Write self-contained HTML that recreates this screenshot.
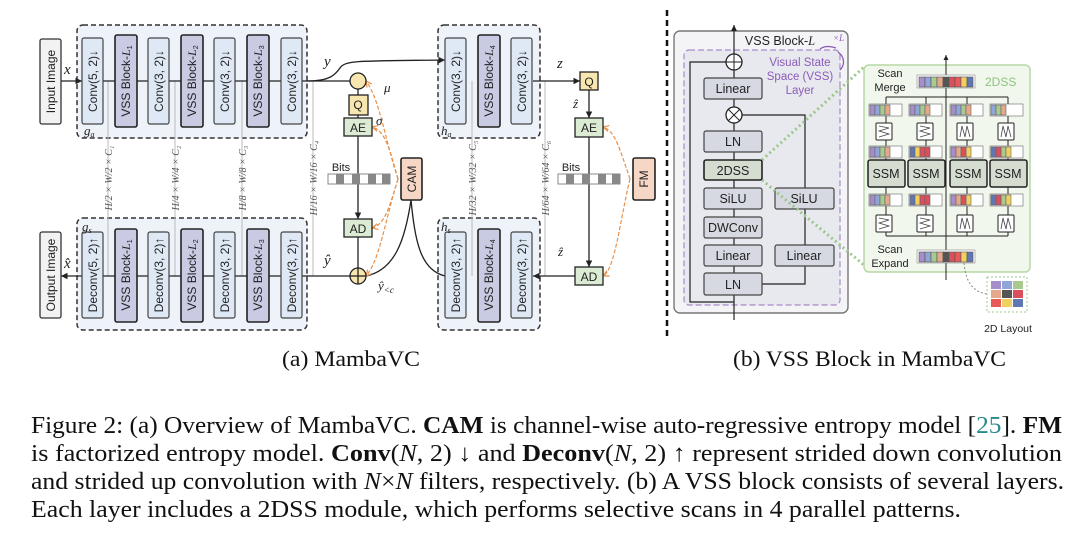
<!DOCTYPE html>
<html><head><meta charset="utf-8"><style>
body{margin:0;background:#fff;width:1080px;height:536px;overflow:hidden}
svg{display:block}
.s{font-family:"Liberation Sans",sans-serif}
.r{font-family:"Liberation Serif",serif}
</style></head><body>
<svg width="1080" height="536" viewBox="0 0 1080 536" xmlns="http://www.w3.org/2000/svg">
<defs>
<marker id="a" markerWidth="6" markerHeight="6" refX="5" refY="3" orient="auto"><path d="M0,0.5 L5,3 L0,5.5z" fill="#222"/></marker>
<marker id="o" markerWidth="6" markerHeight="6" refX="5" refY="3" orient="auto"><path d="M0,0.5 L5,3 L0,5.5" fill="none" stroke="#e8904a" stroke-width="1"/></marker>
</defs>
<rect x="77" y="25" width="230" height="113" rx="6" fill="#eef2f9" stroke="#333" stroke-width="1.5" stroke-dasharray="5,3"/>
<rect x="77" y="218" width="230" height="112" rx="6" fill="#eef2f9" stroke="#333" stroke-width="1.5" stroke-dasharray="5,3"/>
<rect x="438" y="25" width="102" height="113" rx="6" fill="#eef2f9" stroke="#333" stroke-width="1.5" stroke-dasharray="5,3"/>
<rect x="438" y="218" width="102" height="112" rx="6" fill="#eef2f9" stroke="#333" stroke-width="1.5" stroke-dasharray="5,3"/>
<g stroke="#bbb" stroke-width="1">
<line x1="108" y1="81" x2="108" y2="276"/><line x1="175" y1="81" x2="175" y2="276"/><line x1="242" y1="81" x2="242" y2="276"/><line x1="313" y1="81" x2="313" y2="276"/>
<line x1="472" y1="81" x2="472" y2="276"/><line x1="545" y1="81" x2="545" y2="276"/>
</g>
<g stroke="#222" stroke-width="1.3" fill="none">
<line x1="61" y1="81" x2="82" y2="81" marker-end="url(#a)"/>
<line x1="103" y1="81" x2="350" y2="81"/>
<path d="M307,81 C330,81 335,75 340,68 C345,60 360,61 445,60" marker-end="url(#a)"/>
<line x1="358" y1="89" x2="358" y2="95"/>
<line x1="358" y1="115" x2="358" y2="118"/>
<line x1="358" y1="136" x2="358" y2="219" marker-end="url(#a)"/>
<line x1="358" y1="237" x2="358" y2="268"/>
<line x1="350" y1="276" x2="61" y2="276" marker-end="url(#a)"/>
<path d="M366,276 C395,270 405,240 411,200"/>
<path d="M411,200 C415,240 420,270 445,276"/>
<line x1="533" y1="81" x2="580" y2="81" marker-end="url(#a)"/>
<line x1="589" y1="90" x2="589" y2="118" marker-end="url(#a)"/>
<line x1="589" y1="137" x2="589" y2="267" marker-end="url(#a)"/>
<line x1="575" y1="276" x2="533" y2="276" marker-end="url(#a)"/>
</g>
<g stroke="#e8904a" stroke-width="1.2" fill="none" stroke-dasharray="4,2">
<path d="M398,179 C385,140 380,100 366,81" marker-end="url(#o)"/>
<path d="M398,179 C390,150 385,130 372,127" marker-end="url(#o)"/>
<path d="M398,179 C390,205 385,225 372,228" marker-end="url(#o)"/>
<path d="M398,179 C385,220 380,260 366,276" marker-end="url(#o)"/>
<path d="M630,179 C620,150 615,130 603,127" marker-end="url(#o)"/>
<path d="M630,179 C620,220 615,270 603,276" marker-end="url(#o)"/>
</g>
<g class="s" font-size="12" fill="#222">
<rect x="40" y="39" width="21" height="85" rx="2" fill="#f2f2f2" stroke="#333" stroke-width="1.3"/>
<text transform="translate(55,81.5) rotate(-90)" text-anchor="middle">Input Image</text>
<rect x="40" y="232" width="21" height="86" rx="2" fill="#f2f2f2" stroke="#333" stroke-width="1.3"/>
<text transform="translate(55,275) rotate(-90)" text-anchor="middle">Output Image</text>
</g>
<g class="s" font-size="12" fill="#222">
<g fill="#dfe8f5" stroke="#444" stroke-width="1.2">
<rect x="82" y="38" width="21" height="86" rx="2"/><rect x="148" y="38" width="21" height="86" rx="2"/><rect x="214" y="38" width="21" height="86" rx="2"/><rect x="281" y="38" width="21" height="86" rx="2"/>
<rect x="82" y="232" width="21" height="86" rx="2"/><rect x="148" y="232" width="21" height="86" rx="2"/><rect x="214" y="232" width="21" height="86" rx="2"/><rect x="281" y="232" width="21" height="86" rx="2"/>
<rect x="445" y="38" width="21" height="86" rx="2"/><rect x="511" y="38" width="21" height="86" rx="2"/>
<rect x="445" y="232" width="21" height="86" rx="2"/><rect x="511" y="232" width="21" height="86" rx="2"/>
</g>
<g fill="#c9cbe3" stroke="#222" stroke-width="1.6">
<rect x="115" y="35" width="22" height="92" rx="2"/><rect x="181" y="35" width="22" height="92" rx="2"/><rect x="247" y="35" width="22" height="92" rx="2"/>
<rect x="115" y="229" width="22" height="93" rx="2"/><rect x="181" y="229" width="22" height="93" rx="2"/><rect x="247" y="229" width="22" height="93" rx="2"/>
<rect x="478" y="35" width="22" height="92" rx="2"/><rect x="478" y="229" width="22" height="93" rx="2"/>
</g>
<text transform="translate(97,81) rotate(-90)" text-anchor="middle">Conv(5, 2)↓</text>
<text transform="translate(130,81) rotate(-90)" text-anchor="middle">VSS Block-<tspan class="r" font-style="italic">L</tspan><tspan font-size="7" dy="2">1</tspan></text>
<text transform="translate(163,81) rotate(-90)" text-anchor="middle">Conv(3, 2)↓</text>
<text transform="translate(196,81) rotate(-90)" text-anchor="middle">VSS Block-<tspan class="r" font-style="italic">L</tspan><tspan font-size="7" dy="2">2</tspan></text>
<text transform="translate(229,81) rotate(-90)" text-anchor="middle">Conv(3, 2)↓</text>
<text transform="translate(262,81) rotate(-90)" text-anchor="middle">VSS Block-<tspan class="r" font-style="italic">L</tspan><tspan font-size="7" dy="2">3</tspan></text>
<text transform="translate(296,81) rotate(-90)" text-anchor="middle">Conv(3, 2)↓</text>
<text transform="translate(97,275) rotate(-90)" text-anchor="middle">Deconv(5, 2)↑</text>
<text transform="translate(130,275) rotate(-90)" text-anchor="middle">VSS Block-<tspan class="r" font-style="italic">L</tspan><tspan font-size="7" dy="2">1</tspan></text>
<text transform="translate(163,275) rotate(-90)" text-anchor="middle">Deconv(3, 2)↑</text>
<text transform="translate(196,275) rotate(-90)" text-anchor="middle">VSS Block-<tspan class="r" font-style="italic">L</tspan><tspan font-size="7" dy="2">2</tspan></text>
<text transform="translate(229,275) rotate(-90)" text-anchor="middle">Deconv(3, 2)↑</text>
<text transform="translate(262,275) rotate(-90)" text-anchor="middle">VSS Block-<tspan class="r" font-style="italic">L</tspan><tspan font-size="7" dy="2">3</tspan></text>
<text transform="translate(296,275) rotate(-90)" text-anchor="middle">Deconv(3, 2)↑</text>
<text transform="translate(460,81) rotate(-90)" text-anchor="middle">Conv(3, 2)↓</text>
<text transform="translate(493,81) rotate(-90)" text-anchor="middle">VSS Block-<tspan class="r" font-style="italic">L</tspan><tspan font-size="7" dy="2">4</tspan></text>
<text transform="translate(526,81) rotate(-90)" text-anchor="middle">Conv(3, 2)↓</text>
<text transform="translate(460,275) rotate(-90)" text-anchor="middle">Deconv(3, 2)↑</text>
<text transform="translate(493,275) rotate(-90)" text-anchor="middle">VSS Block-<tspan class="r" font-style="italic">L</tspan><tspan font-size="7" dy="2">4</tspan></text>
<text transform="translate(526,275) rotate(-90)" text-anchor="middle">Deconv(3, 2)↑</text>
</g>
<g class="r" font-size="10" fill="#555" font-style="italic">
<text transform="translate(112,178) rotate(-90)" text-anchor="middle">H/2 × W/2 × C₁</text>
<text transform="translate(179,178) rotate(-90)" text-anchor="middle">H/4 × W/4 × C₂</text>
<text transform="translate(246,178) rotate(-90)" text-anchor="middle">H/8 × W/8 × C₃</text>
<text transform="translate(317,178) rotate(-90)" text-anchor="middle">H/16 × W/16 × C₄</text>
<text transform="translate(476,178) rotate(-90)" text-anchor="middle">H/32 × W/32 × C₅</text>
<text transform="translate(549,178) rotate(-90)" text-anchor="middle">H/64 × W/64 × C₆</text>
</g>
<g class="r" font-style="italic" font-size="15" fill="#222">
<text x="64" y="74">x</text><text x="64" y="268">x̂</text>
<text x="84" y="135" font-size="13">g<tspan font-size="8" dy="2">a</tspan></text>
<text x="82" y="231" font-size="13">g<tspan font-size="8" dy="2">s</tspan></text>
<text x="441" y="135" font-size="13">h<tspan font-size="8" dy="2">a</tspan></text>
<text x="441" y="231" font-size="13">h<tspan font-size="8" dy="2">s</tspan></text>
<text x="324" y="66">y</text><text x="324" y="265">ŷ</text>
<text x="384" y="92" font-size="13">μ</text><text x="376" y="125" font-size="13">σ</text>
<text x="378" y="290" font-size="13">ŷ<tspan font-size="9" dy="3">&lt;c</tspan></text>
<text x="557" y="68">z</text><text x="573" y="108" font-size="13">ẑ</text><text x="558" y="256" font-size="13">ẑ</text>
</g>
<g stroke="#222" stroke-width="1.3">
<circle cx="358" cy="81" r="8" fill="#f8e6b0"/>
<circle cx="358" cy="276" r="8" fill="#f8e6b0"/><line x1="350" y1="276" x2="366" y2="276"/><line x1="358" y1="268" x2="358" y2="284"/>
<rect x="349" y="95" width="19" height="20" fill="#f8e6b0"/>
<rect x="344" y="118" width="28" height="18" fill="#dcebd3"/>
<rect x="344" y="219" width="28" height="18" fill="#dcebd3"/>
<rect x="401" y="158" width="21" height="42" rx="2" fill="#f6d6c4" stroke-width="1.6"/>
<rect x="580" y="72" width="18" height="18" fill="#f8e6b0"/>
<rect x="575" y="118" width="28" height="19" fill="#dcebd3"/>
<rect x="575" y="267" width="28" height="18" fill="#dcebd3"/>
<rect x="633" y="158" width="22" height="42" rx="2" fill="#f6d6c4" stroke-width="1.6"/>
</g>
<g fill="#888"><rect x="328" y="174" width="62" height="10" fill="#fff" stroke="#888"/>
<rect x="336" y="174" width="8" height="10"/><rect x="352" y="174" width="8" height="10"/><rect x="368" y="174" width="8" height="10"/><rect x="382" y="174" width="8" height="10"/>
<rect x="558" y="174" width="62" height="10" fill="#fff" stroke="#888"/>
<rect x="566" y="174" width="8" height="10"/><rect x="582" y="174" width="8" height="10"/><rect x="598" y="174" width="8" height="10"/><rect x="612" y="174" width="8" height="10"/></g>
<g class="s" font-size="12" fill="#222" text-anchor="middle">
<text x="358" y="109">Q</text><text x="358" y="132">AE</text><text x="358" y="233">AD</text>
<text x="589" y="86">Q</text><text x="589" y="132">AE</text><text x="589" y="281">AD</text>
<text x="341" y="171" font-size="11">Bits</text><text x="571" y="171" font-size="11">Bits</text>
<text transform="translate(416,179) rotate(-90)">CAM</text>
<text transform="translate(648,179) rotate(-90)">FM</text>
</g>
<line x1="667" y1="10" x2="667" y2="336" stroke="#111" stroke-width="2.5" stroke-dasharray="6,4"/>
<rect x="674" y="31" width="174" height="282" rx="6" fill="#f4f4f6" stroke="#777" stroke-width="1.4"/>
<rect x="684" y="50" width="156" height="255" rx="5" fill="#e8e8ef" stroke="#a78bc9" stroke-width="1.2" stroke-dasharray="6,3"/>
<g stroke="#222" stroke-width="1.2" fill="none">
<line x1="734" y1="320" x2="734" y2="25" marker-end="url(#a)"/>
<path d="M734,302 L690,302 L690,62 L726,62"/>
<path d="M762,284 L805,284 L805,266"/>
<path d="M805,245 L805,209"/><path d="M805,188 L805,115 L742,115"/>
</g>
<circle cx="734" cy="62" r="8" fill="#fff" stroke="#222" stroke-width="1.3"/>
<line x1="726" y1="62" x2="742" y2="62" stroke="#222"/><line x1="734" y1="54" x2="734" y2="70" stroke="#222"/>
<circle cx="734" cy="115" r="8" fill="#fff" stroke="#222" stroke-width="1.3"/>
<line x1="728.5" y1="109.5" x2="739.5" y2="120.5" stroke="#222"/><line x1="739.5" y1="109.5" x2="728.5" y2="120.5" stroke="#222"/>
<g fill="#d6d8e2" stroke="#444" stroke-width="1.2">
<rect x="704" y="78" width="58" height="21" rx="2"/><rect x="704" y="131" width="58" height="21" rx="2"/>
<rect x="704" y="160" width="58" height="20" rx="2" fill="#d4ddd0" stroke="#222" stroke-width="1.6"/>
<rect x="704" y="188" width="58" height="21" rx="2"/><rect x="704" y="217" width="58" height="21" rx="2"/>
<rect x="704" y="245" width="58" height="21" rx="2"/><rect x="704" y="273" width="58" height="22" rx="2"/>
<rect x="775" y="188" width="59" height="21" rx="2"/><rect x="775" y="245" width="59" height="21" rx="2"/>
</g>
<g class="s" font-size="12.5" fill="#222" text-anchor="middle">
<text x="733" y="93">Linear</text><text x="733" y="146">LN</text><text x="733" y="175">2DSS</text>
<text x="733" y="203">SiLU</text><text x="733" y="232">DWConv</text><text x="733" y="260">Linear</text><text x="733" y="289">LN</text>
<text x="804" y="203">SiLU</text><text x="804" y="260">Linear</text>
<text x="780" y="45" fill="#222">VSS Block-<tspan class="r" font-style="italic">L</tspan></text>
<g fill="#8a5cb8" font-size="11.5"><text x="800" y="66">Visual State</text><text x="800" y="80">Space (VSS)</text><text x="800" y="94">Layer</text></g>
</g>
<text x="833" y="41" class="r" font-size="9" font-style="italic" fill="#8a5cb8">×L</text>
<path d="M838,52 C846,58 844,66 840,70" stroke="#8a5cb8" fill="none" stroke-width="1.3"/>
<path d="M836,48 C830,46 824,46 820,49" stroke="#8a5cb8" fill="none" stroke-width="1.3"/>
<g stroke="#9cc98a" stroke-width="3" stroke-dasharray="2,3"><line x1="762" y1="160" x2="864" y2="67"/><line x1="762" y1="180" x2="864" y2="265"/></g>
<rect x="864" y="65" width="166" height="207" rx="5" fill="#f2f7ee" stroke="#b6d8a6" stroke-width="1.5"/>
<text x="985" y="86" class="s" font-size="12" fill="#8cc47a">2DSS</text>
<g class="s" font-size="11" fill="#222" text-anchor="middle"><text x="890" y="77">Scan</text><text x="890" y="91">Merge</text><text x="890" y="253">Scan</text><text x="890" y="267">Expand</text></g>
<g stroke="#222" stroke-width="1" fill="none">
<line x1="946" y1="280" x2="946" y2="55" marker-end="url(#a)"/>
<line x1="886" y1="97" x2="1008" y2="97"/><line x1="886" y1="236" x2="1008" y2="236"/>
<line x1="886" y1="97" x2="886" y2="236"/><line x1="926" y1="97" x2="926" y2="236"/><line x1="967" y1="97" x2="967" y2="236"/><line x1="1008" y1="97" x2="1008" y2="236"/>
</g>
<g stroke="#555" stroke-width="0.6">
<rect x="917" y="75" width="58" height="13" fill="#fff" stroke="#888"/>
<rect x="919" y="77" width="6" height="10" fill="#a58ec9"/><rect x="925" y="77" width="6" height="10" fill="#8fa6d6"/><rect x="931" y="77" width="6" height="10" fill="#a9c98f"/><rect x="937" y="77" width="6" height="10" fill="#e6a88a"/><rect x="943" y="77" width="6" height="10" fill="#555"/><rect x="949" y="77" width="6" height="10" fill="#d8505a"/><rect x="955" y="77" width="6" height="10" fill="#e85a5a"/><rect x="961" y="77" width="6" height="10" fill="#f0d060"/><rect x="967" y="77" width="6" height="10" fill="#6078b0"/>
<rect x="917" y="250" width="58" height="13" fill="#fff" stroke="#888"/>
<rect x="919" y="252" width="6" height="10" fill="#a58ec9"/><rect x="925" y="252" width="6" height="10" fill="#8fa6d6"/><rect x="931" y="252" width="6" height="10" fill="#a9c98f"/><rect x="937" y="252" width="6" height="10" fill="#e6a88a"/><rect x="943" y="252" width="6" height="10" fill="#555"/><rect x="949" y="252" width="6" height="10" fill="#d8505a"/><rect x="955" y="252" width="6" height="10" fill="#e85a5a"/><rect x="961" y="252" width="6" height="10" fill="#f0d060"/><rect x="967" y="252" width="6" height="10" fill="#6078b0"/>
</g>
<g stroke="#666" stroke-width="0.6">
<g fill="#fff"><rect x="869" y="104" width="33" height="12"/><rect x="909" y="104" width="33" height="12"/><rect x="950" y="104" width="33" height="12"/><rect x="990" y="104" width="33" height="12"/>
<rect x="869" y="146" width="33" height="12"/><rect x="909" y="146" width="33" height="12"/><rect x="950" y="146" width="33" height="12"/><rect x="990" y="146" width="33" height="12"/>
<rect x="869" y="194" width="33" height="12"/><rect x="909" y="194" width="33" height="12"/><rect x="950" y="194" width="33" height="12"/><rect x="990" y="194" width="33" height="12"/></g>
<g fill="#a58ec9"><rect x="870" y="105" width="5" height="10"/><rect x="870" y="147" width="5" height="10"/><rect x="870" y="195" width="5" height="10"/><rect x="951" y="105" width="5" height="10"/><rect x="951" y="147" width="5" height="10"/><rect x="951" y="195" width="5" height="10"/><rect x="910" y="105" width="5" height="10"/></g>
<g fill="#8fa6d6"><rect x="875" y="105" width="5" height="10"/><rect x="875" y="147" width="5" height="10"/><rect x="875" y="195" width="5" height="10"/><rect x="956" y="105" width="5" height="10"/><rect x="915" y="105" width="5" height="10"/><rect x="991" y="105" width="5" height="10"/></g>
<g fill="#a9c98f"><rect x="880" y="105" width="5" height="10"/><rect x="880" y="147" width="5" height="10"/><rect x="880" y="195" width="5" height="10"/><rect x="961" y="105" width="5" height="10"/><rect x="920" y="105" width="5" height="10"/><rect x="996" y="105" width="5" height="10"/><rect x="1001" y="147" width="5" height="10"/><rect x="1001" y="195" width="5" height="10"/></g>
<g fill="#e6a88a"><rect x="885" y="105" width="5" height="10"/><rect x="885" y="147" width="5" height="10"/><rect x="885" y="195" width="5" height="10"/><rect x="966" y="105" width="5" height="10"/><rect x="956" y="147" width="5" height="10"/><rect x="956" y="195" width="5" height="10"/><rect x="925" y="105" width="5" height="10"/><rect x="1001" y="105" width="5" height="10"/></g>
<g fill="#6078b0"><rect x="910" y="147" width="5" height="10"/><rect x="910" y="195" width="5" height="10"/><rect x="991" y="147" width="5" height="10"/><rect x="991" y="195" width="5" height="10"/></g>
<g fill="#f0d060"><rect x="915" y="147" width="5" height="10"/><rect x="915" y="195" width="5" height="10"/><rect x="1006" y="147" width="5" height="10"/><rect x="1006" y="195" width="5" height="10"/><rect x="966" y="147" width="5" height="10"/><rect x="966" y="195" width="5" height="10"/></g>
<g fill="#d8505a"><rect x="920" y="147" width="5" height="10"/><rect x="920" y="195" width="5" height="10"/><rect x="925" y="147" width="5" height="10"/><rect x="925" y="195" width="5" height="10"/><rect x="961" y="147" width="5" height="10"/><rect x="961" y="195" width="5" height="10"/><rect x="996" y="147" width="5" height="10"/><rect x="996" y="195" width="5" height="10"/></g>
<g fill="#fff" stroke="#222" stroke-width="1"><rect x="876" y="123" width="16" height="17" rx="1"/><rect x="917" y="123" width="16" height="17" rx="1"/><rect x="957" y="123" width="16" height="17" rx="1"/><rect x="998" y="123" width="16" height="17" rx="1"/>
<rect x="876" y="215" width="16" height="17" rx="1"/><rect x="917" y="215" width="16" height="17" rx="1"/><rect x="957" y="215" width="16" height="17" rx="1"/><rect x="998" y="215" width="16" height="17" rx="1"/></g>
<g fill="none" stroke="#444" stroke-width="0.8"><path d="M879,126 L889,128 L879,131 L889,134 L879,137"/><path d="M920,126 L930,128 L920,131 L930,134 L920,137"/><path d="M960,137 L962,126 L965,137 L967,126 L970,137"/><path d="M1001,137 L1003,126 L1006,137 L1008,126 L1011,137"/>
<path d="M879,218 L889,220 L879,223 L889,226 L879,229"/><path d="M920,218 L930,220 L920,223 L930,226 L920,229"/><path d="M960,229 L962,218 L965,229 L967,218 L970,229"/><path d="M1001,229 L1003,218 L1006,229 L1008,218 L1011,229"/></g>
</g>
<g fill="#d4ddd0" stroke="#222" stroke-width="1.5"><rect x="868" y="160" width="37" height="27" rx="2"/><rect x="908" y="160" width="37" height="27" rx="2"/><rect x="950" y="160" width="37" height="27" rx="2"/><rect x="990" y="160" width="37" height="27" rx="2"/></g>
<g class="s" font-size="12.5" fill="#222" text-anchor="middle"><text x="886" y="178">SSM</text><text x="926" y="178">SSM</text><text x="968" y="178">SSM</text><text x="1008" y="178">SSM</text></g>
<path d="M964,263 C966,285 975,292 987,294" stroke="#888" fill="none" stroke-dasharray="2,2"/>
<rect x="987" y="277" width="40" height="35" fill="#fff" stroke="#9cc98a" stroke-dasharray="2,2"/>
<g><rect x="991" y="281" width="10" height="8" fill="#a58ec9"/><rect x="1002" y="281" width="10" height="8" fill="#8fa6d6"/><rect x="1013" y="281" width="10" height="8" fill="#a9c98f"/>
<rect x="991" y="290" width="10" height="8" fill="#e6a88a"/><rect x="1002" y="290" width="10" height="8" fill="#555"/><rect x="1013" y="290" width="10" height="8" fill="#d8505a"/>
<rect x="991" y="299" width="10" height="8" fill="#e85a5a"/><rect x="1002" y="299" width="10" height="8" fill="#f0d060"/><rect x="1013" y="299" width="10" height="8" fill="#6078b0"/></g>
<text x="1008" y="332" class="s" font-size="10.5" fill="#222" text-anchor="middle">2D Layout</text>
<g class="r" fill="#111">
<text x="282" y="366" font-size="22" textLength="138" lengthAdjust="spacingAndGlyphs">(a) MambaVC</text>
<text x="733" y="366" font-size="22" textLength="273" lengthAdjust="spacingAndGlyphs">(b) VSS Block in MambaVC</text>
<g font-size="24">
<text x="31" y="433" textLength="1031" lengthAdjust="spacingAndGlyphs">Figure 2: (a) Overview of MambaVC. <tspan font-weight="bold">CAM</tspan> is channel-wise auto-regressive entropy model [<tspan fill="#2a8a8a">25</tspan>]. <tspan font-weight="bold">FM</tspan></text>
<text x="31" y="461" textLength="1031" lengthAdjust="spacingAndGlyphs">is factorized entropy model. <tspan font-weight="bold">Conv</tspan>(<tspan font-style="italic">N</tspan>, 2) ↓ and <tspan font-weight="bold">Deconv</tspan>(<tspan font-style="italic">N</tspan>, 2) ↑ represent strided down convolution</text>
<text x="31" y="489" textLength="1033" lengthAdjust="spacingAndGlyphs">and strided up convolution with <tspan font-style="italic">N</tspan>×<tspan font-style="italic">N</tspan> filters, respectively. (b) A VSS block consists of several layers.</text>
<text x="31" y="517" textLength="930" lengthAdjust="spacingAndGlyphs">Each layer includes a 2DSS module, which performs selective scans in 4 parallel patterns.</text>
</g>
</g>
</svg>
</body></html>
